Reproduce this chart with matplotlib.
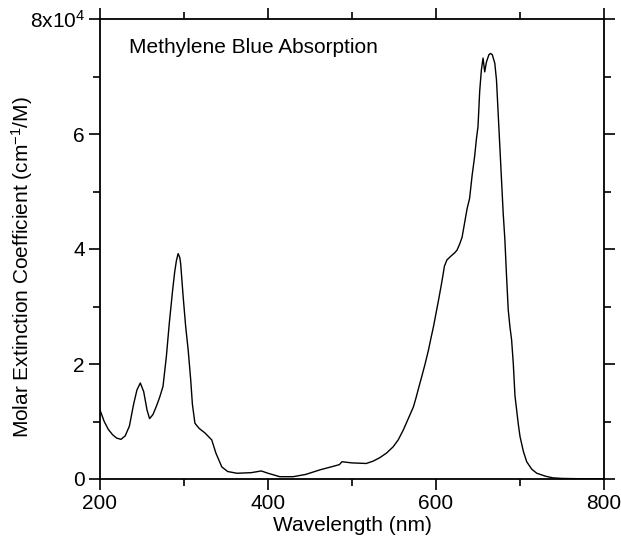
import matplotlib
matplotlib.use("Agg")
import matplotlib.pyplot as plt
from matplotlib.ticker import MultipleLocator, FuncFormatter

plt.rcParams['font.family'] = ['Liberation Sans', 'DejaVu Sans']
plt.rcParams['mathtext.default'] = 'regular'

wavelength = [200, 205, 210, 215, 220, 225, 230, 235, 240, 244, 248, 252, 256, 259,
              263, 267, 271, 275, 279, 282.5, 286.5, 289, 291, 293, 295, 296, 299,
              302, 305, 308, 310, 313, 318, 325, 333, 338, 345, 352, 363, 380, 392,
              400, 414, 430, 445, 462, 475, 485, 488, 500, 517, 525, 533, 541, 549,
              555, 561, 567, 573, 576, 580, 583, 587, 591, 594, 597, 600, 603, 606,
              608, 610, 613, 618, 622, 625, 628, 631, 634, 637, 640, 643, 646, 648,
              650, 652, 654, 656, 658, 660, 663, 665, 667, 670, 672, 674, 676, 678,
              680, 682, 684, 686, 688, 690, 692, 694, 696, 698, 700, 704, 708, 714,
              720, 730, 739, 750, 770, 800]
extinction_1e4 = [1.20, 1.00, 0.86, 0.77, 0.71, 0.69, 0.75, 0.92, 1.30, 1.55, 1.67, 1.52,
                  1.20, 1.05, 1.12, 1.26, 1.42, 1.61, 2.13, 2.71, 3.29, 3.61, 3.80, 3.92,
                  3.85, 3.75, 3.17, 2.65, 2.24, 1.72, 1.30, 0.97, 0.88, 0.80, 0.68, 0.45,
                  0.21, 0.13, 0.10, 0.11, 0.14, 0.10, 0.04, 0.04, 0.08, 0.16, 0.21, 0.25,
                  0.30, 0.28, 0.27, 0.31, 0.37, 0.45, 0.56, 0.68, 0.85, 1.05, 1.25, 1.40,
                  1.62, 1.78, 2.00, 2.24, 2.45, 2.65, 2.88, 3.11, 3.35, 3.52, 3.70, 3.81,
                  3.88, 3.93, 3.98, 4.08, 4.20, 4.45, 4.70, 4.88, 5.28, 5.61, 5.90, 6.13,
                  6.74, 7.11, 7.32, 7.08, 7.25, 7.38, 7.40, 7.38, 7.23, 6.94, 6.36, 5.78,
                  5.20, 4.62, 4.16, 3.52, 2.94, 2.65, 2.42, 2.01, 1.45, 1.20, 0.95, 0.74,
                  0.48, 0.30, 0.17, 0.10, 0.05, 0.02, 0.01, 0.005, 0.005]
extinction = [v * 1e4 for v in extinction_1e4]

fig = plt.figure(figsize=(6.21, 5.42), dpi=100)
ax = fig.add_axes([100/621, 63/542, 504/621, 460/542])
ax.plot(wavelength, extinction, color='black', lw=1.0)

ax.set_xlim(200, 800)
ax.set_ylim(0, 80000)
ax.xaxis.set_major_locator(MultipleLocator(200))
ax.xaxis.set_minor_locator(MultipleLocator(100))
ax.yaxis.set_major_locator(MultipleLocator(20000))
ax.yaxis.set_minor_locator(MultipleLocator(10000))

def yfmt(v, pos):
    n = int(round(v / 1e4))
    if n == 8:
        return '8x10$^{4}$'
    return str(n)
ax.yaxis.set_major_formatter(FuncFormatter(yfmt))

fs = 15
ax.tick_params(which='both', direction='out', top=True, right=True,
               labeltop=False, labelright=False, width=1.2, color='black',
               labelsize=fs, pad=3)
ax.tick_params(which='major', length=8)
ax.tick_params(which='minor', length=5)
for s in ax.spines.values():
    s.set_linewidth(1.3)

ax.set_xlabel('Wavelength (nm)', fontsize=fs, labelpad=2)
ax.set_ylabel('Molar Extinction Coefficient (cm$^{-1}$/M)', fontsize=fs, va='center')
ax.yaxis.set_label_coords(-0.155, 0.46)
ax.text(0.058, 0.937, 'Methylene Blue Absorption', transform=ax.transAxes,
        fontsize=fs, ha='left', va='center')

fig.savefig('out.png', dpi=100)
